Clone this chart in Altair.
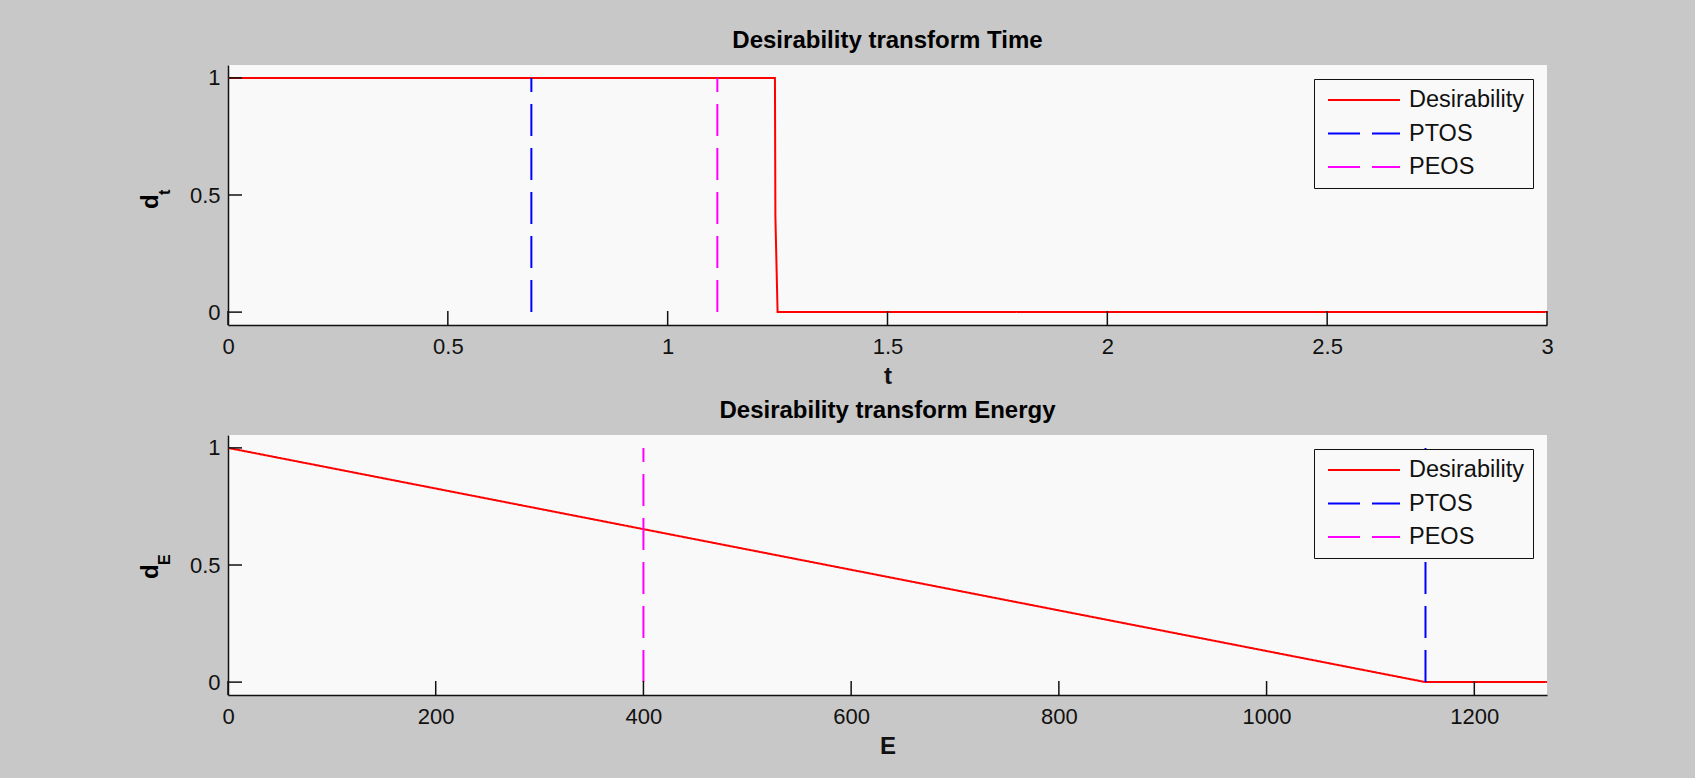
import altair as alt
import pandas as pd

# ---------------- data ----------------
series_names = ["Desirability", "PTOS", "PEOS"]
series_colors = ["#FF0000", "#0000FF", "#FF00FF"]

# Time panel
time_desir_t = [0.0, 1.244, 1.245, 1.25, 3.0]
time_desir_d = [1.0, 1.0, 0.41, 0.0, 0.0]
time_ptos_t = 0.69
time_peos_t = 1.113
time_xmax = 3.0
time_xticks = [0, 0.5, 1, 1.5, 2, 2.5, 3]

# Energy panel
energy_desir_e = [0.0, 1153.0, 1270.0]
energy_desir_d = [1.0, 0.0, 0.0]
energy_ptos_e = 1153.0
energy_peos_e = 400.0
energy_xmax = 1270.0
energy_xticks = [0, 200, 400, 600, 800, 1000, 1200]

y_ticks = [0, 0.5, 1]
y_domain = [-0.055, 1.055]

PLOT_W = 1319
PLOT_H = 260
FONT = "Liberation Sans"


def build_df(desir_x, desir_y, ptos_x, peos_x):
    rows = []
    for i, (x, y) in enumerate(zip(desir_x, desir_y)):
        rows.append({"x": x, "y": y, "series": "Desirability", "idx": i})
    rows.append({"x": ptos_x, "y": 0.0, "series": "PTOS", "idx": 0})
    rows.append({"x": ptos_x, "y": 1.0, "series": "PTOS", "idx": 1})
    rows.append({"x": peos_x, "y": 0.0, "series": "PEOS", "idx": 0})
    rows.append({"x": peos_x, "y": 1.0, "series": "PEOS", "idx": 1})
    return pd.DataFrame(rows)


def panel(df, xmax, xticks, xfmt, title, xtitle, sub):
    x_scale = alt.Scale(domain=[0, xmax], nice=False, zero=False)
    y_scale = alt.Scale(domain=y_domain, nice=False, zero=False)

    lines = alt.Chart(df).mark_line(strokeWidth=2, clip=True).encode(
        x=alt.X("x:Q", scale=x_scale,
                axis=alt.Axis(values=xticks, title=xtitle, format=xfmt,
                              labelPadding=11, titlePadding=7, labelFlush=False)),
        y=alt.Y("y:Q", scale=y_scale,
                axis=alt.Axis(values=y_ticks, title=None, format="~g",
                              labelPadding=8)),
        color=alt.Color("series:N",
                        scale=alt.Scale(domain=series_names, range=series_colors),
                        legend=alt.Legend(title=None)),
        strokeDash=alt.StrokeDash("series:N",
                                  scale=alt.Scale(domain=series_names,
                                                  range=[[1, 0], [32, 12], [32, 12]]),
                                  legend=alt.Legend(title=None)),
        detail="series:N",
        order="idx:Q",
    )

    xt = alt.Chart(pd.DataFrame({"x": xticks})).mark_rule(
        color="#111111", strokeWidth=1.5).encode(
        x="x:Q", y=alt.value(PLOT_H), y2=alt.value(PLOT_H - 14))
    yt = alt.Chart(pd.DataFrame({"y": y_ticks})).mark_rule(
        color="#111111", strokeWidth=1.5).encode(
        y="y:Q", x=alt.value(0), x2=alt.value(14))

    one = pd.DataFrame({"a": [0]})
    d_txt = alt.Chart(one).mark_text(
        angle=270, align="left", baseline="alphabetic", font=FONT,
        fontSize=24, fontWeight="bold", color="black").encode(
        x=alt.value(-70), y=alt.value(PLOT_H / 2 + 14), text=alt.value("d"))
    s_txt = alt.Chart(one).mark_text(
        angle=270, align="left", baseline="alphabetic", font=FONT,
        fontSize=16, fontWeight="bold", color="black").encode(
        x=alt.value(-58), y=alt.value(PLOT_H / 2), text=alt.value(sub))

    return alt.layer(lines, xt, yt, d_txt, s_txt).properties(
        width=PLOT_W, height=PLOT_H,
        title=alt.TitleParams(title, fontSize=24, fontWeight="bold", font=FONT,
                              color="black", anchor="middle", frame="group",
                              offset=12),
    )


top = panel(build_df(time_desir_t, time_desir_d, time_ptos_t, time_peos_t),
            time_xmax, time_xticks, "~g", "Desirability transform Time", "t", "t")
bottom = panel(build_df(energy_desir_e, energy_desir_d, energy_ptos_e, energy_peos_e),
               energy_xmax, energy_xticks, "d", "Desirability transform Energy", "E", "E")

chart = alt.vconcat(top, bottom, spacing=11).resolve_scale(
    x="independent", y="independent", color="independent", strokeDash="independent"
).resolve_legend(color="independent", strokeDash="independent").properties(
    background="#C8C8C8",
    padding={"left": 139, "top": 29, "right": 141, "bottom": 20},
).configure_view(
    stroke=None, fill="#F9F9F9"
).configure_axis(
    domainColor="#111111", domainWidth=1.5, ticks=False, tickSize=0, grid=False,
    labelFont=FONT, labelFontSize=22, labelColor="#111111",
    titleFont=FONT, titleFontSize=24, titleFontWeight="bold", titleColor="#111111",
).configure_legend(
    orient="none", legendX=1086, legendY=14,
    strokeColor="#111111", fillColor="#F9F9F9", padding=9, rowPadding=9.5,
    labelFont=FONT, labelFontSize=23.5, labelColor="#111111", labelOffset=8,
    symbolType="stroke", symbolSize=5184, symbolStrokeWidth=2, symbolOffset=4,
    clipHeight=24, cornerRadius=0,
)

chart.save("out.html", embed_options={"renderer": "svg", "actions": False})
